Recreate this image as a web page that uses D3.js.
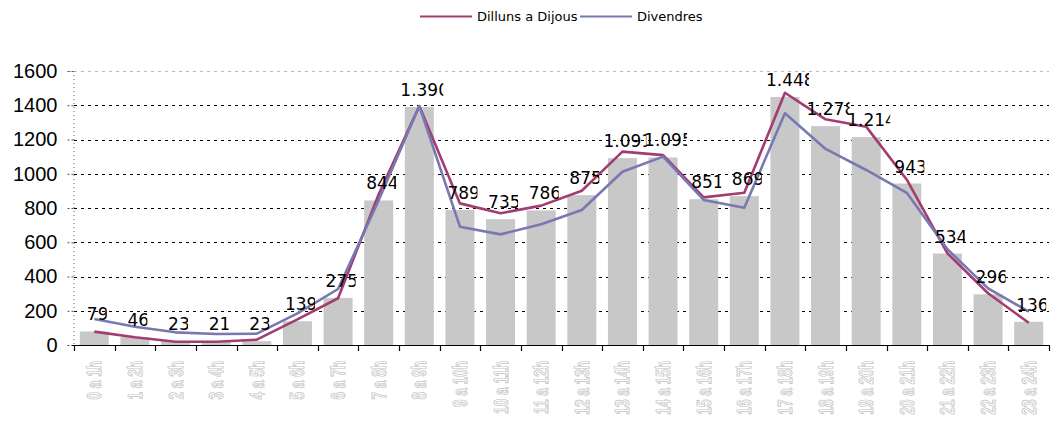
<!DOCTYPE html>
<html>
<head>
<meta charset="utf-8">
<script src="https://cdn.jsdelivr.net/npm/d3@7"></script>
<style>
  html, body { margin: 0; padding: 0; background: #fff; }
  svg { display: block; }
</style>
</head>
<body>
<svg id="chart" width="1055" height="421"></svg>
<script>
const categories = ["0 a 1h","1 a 2h","2 a 3h","3 a 4h","4 a 5h","5 a 6h","6 a 7h","7 a 8h","8 a 9h","9 a 10h","10 a 11h","11 a 12h","12 a 13h","13 a 14h","14 a 15h","15 a 16h","16 a 17h","17 a 18h","18 a 19h","19 a 20h","20 a 21h","21 a 22h","22 a 23h","23 a 24h"];
const totalValues = [79,46,23,21,23,139,275,844,1390,789,735,786,875,1091,1095,851,869,1448,1278,1214,943,534,296,136];
const dillunsDijous = [78,45,19,19,31,150,273,880,1395,827,769,814,901,1129,1109,862,889,1473,1318,1275,965,535,302,130];
const divendres = [152,107,74,64,66,185,327,845,1395,691,646,705,788,1012,1100,847,802,1353,1145,1022,889,559,331,195];
const yTicks = [0,200,400,600,800,1000,1200,1400,1600];
const seriesNames = ["Dilluns a Dijous","Divendres"];
const seriesColors = ["#A33D70","#7878B2"];

const svg = d3.select("#chart");
const plotLeft = 74, plotRight = 1049, plotTop = 71, plotBottom = 345;

const x = d3.scaleBand().domain(categories).range([plotLeft, plotRight]).paddingInner(0.286).paddingOuter(0.143);
const y = d3.scaleLinear().domain([0, 1600]).range([plotBottom, plotTop]);
const cx = d => x(d) + x.bandwidth() / 2;

// gridlines
svg.append("g").selectAll("line").data(yTicks.filter(t => t > 0)).join("line")
  .attr("x1", plotLeft).attr("x2", plotRight)
  .attr("y1", d => Math.round(y(d)) + 0.5).attr("y2", d => Math.round(y(d)) + 0.5)
  .attr("stroke", d => d === 1600 ? "#bbb" : "#000")
  .attr("stroke-width", 1)
  .attr("stroke-dasharray", "3,4");

// y axis
const yAxis = d3.axisLeft(y).tickValues(yTicks).tickSize(6).tickPadding(10).tickFormat(d3.format("d"));
const gy = svg.append("g").attr("transform", `translate(${plotLeft - 0.5},0)`).call(yAxis);
gy.select(".domain").attr("stroke", "#666").attr("stroke-dasharray", "1,3");
gy.selectAll(".tick line").attr("stroke", "#555").attr("stroke-dasharray", "2,2");
gy.selectAll(".tick text").attr("font-family", "'Liberation Sans', Arial, sans-serif").attr("font-size", 20).attr("fill", "#000");

// bars
svg.append("g").selectAll("rect").data(categories).join("rect")
  .attr("x", d => x(d))
  .attr("width", x.bandwidth())
  .attr("y", (d, i) => y(totalValues[i]))
  .attr("height", (d, i) => y(0) - y(totalValues[i]))
  .attr("fill", "#C8C8C8");

// x axis
const bandEdges = categories.map(c => x(c) - x.step() * x.paddingInner() / 2).concat([plotRight]);
const gx = svg.append("g");
gx.append("line").attr("x1", plotLeft - 2).attr("x2", plotRight).attr("y1", plotBottom + 0.5).attr("y2", plotBottom + 0.5)
  .attr("stroke", "#000").attr("stroke-width", 1.2);
gx.selectAll("line.tk").data(bandEdges).join("line").attr("class", "tk")
  .attr("x1", d => Math.round(d) + 0.5).attr("x2", d => Math.round(d) + 0.5)
  .attr("y1", plotBottom).attr("y2", plotBottom + 6)
  .attr("stroke", "#000").attr("stroke-width", 1.2);
gx.selectAll("text").data(categories).join("text")
  .attr("transform", d => `translate(${cx(d) + 7},${361}) rotate(-90) scale(0.68,1)`)
  .attr("text-anchor", "end")
  .attr("font-family", "'Liberation Sans', Arial, sans-serif")
  .attr("font-weight", "bold")
  .attr("font-size", 20)
  .attr("fill", "#fff")
  .attr("stroke", "#c4c4c4")
  .attr("stroke-width", 0.9)
  .text(d => d);

// lines
const lineGen = vals => d3.line().x((d, i) => cx(categories[i])).y(d => y(d))(vals);
[dillunsDijous, divendres].forEach((vals, k) => {
  svg.append("path").attr("d", lineGen(vals))
    .attr("fill", "none").attr("stroke", seriesColors[k]).attr("stroke-width", 2.6)
    .attr("stroke-linejoin", "round");
});

// data labels (clipped boxes)
const loc = d3.formatLocale({decimal: ",", thousands: ".", grouping: [3], currency: ["", "€"]});
const fmt = loc.format(",d");
const defs = svg.append("defs");
const labG = svg.append("g");
categories.forEach((c, i) => {
  const s = fmt(totalValues[i]);
  const digits = (s.match(/\d/g) || []).length;
  const dots = (s.match(/\./g) || []).length;
  const w = 10 * digits + 3 * dots;
  const x0 = cx(c) + 2.5 - w / 2;
  const yb = y(totalValues[i]) - 11;
  defs.append("clipPath").attr("id", "lc" + i).append("rect")
    .attr("x", x0).attr("y", yb - 20).attr("width", w).attr("height", 26);
  labG.append("text").attr("clip-path", `url(#lc${i})`)
    .attr("x", x0).attr("y", yb)
    .attr("font-family", "'DejaVu Sans', sans-serif").attr("font-size", 17)
    .attr("fill", "#000").text(s);
});

// legend
const lg = svg.append("g").attr("font-family", "'DejaVu Sans', sans-serif").attr("font-size", 13);
const legendX = [420, 580];
seriesNames.forEach((n, k) => {
  lg.append("line").attr("x1", legendX[k]).attr("x2", legendX[k] + 52).attr("y1", 16.5).attr("y2", 16.5)
    .attr("stroke", seriesColors[k]).attr("stroke-width", 2.2);
  lg.append("text").attr("x", legendX[k] + 57).attr("y", 21).attr("fill", "#000").text(n);
});
</script>
</body>
</html>
